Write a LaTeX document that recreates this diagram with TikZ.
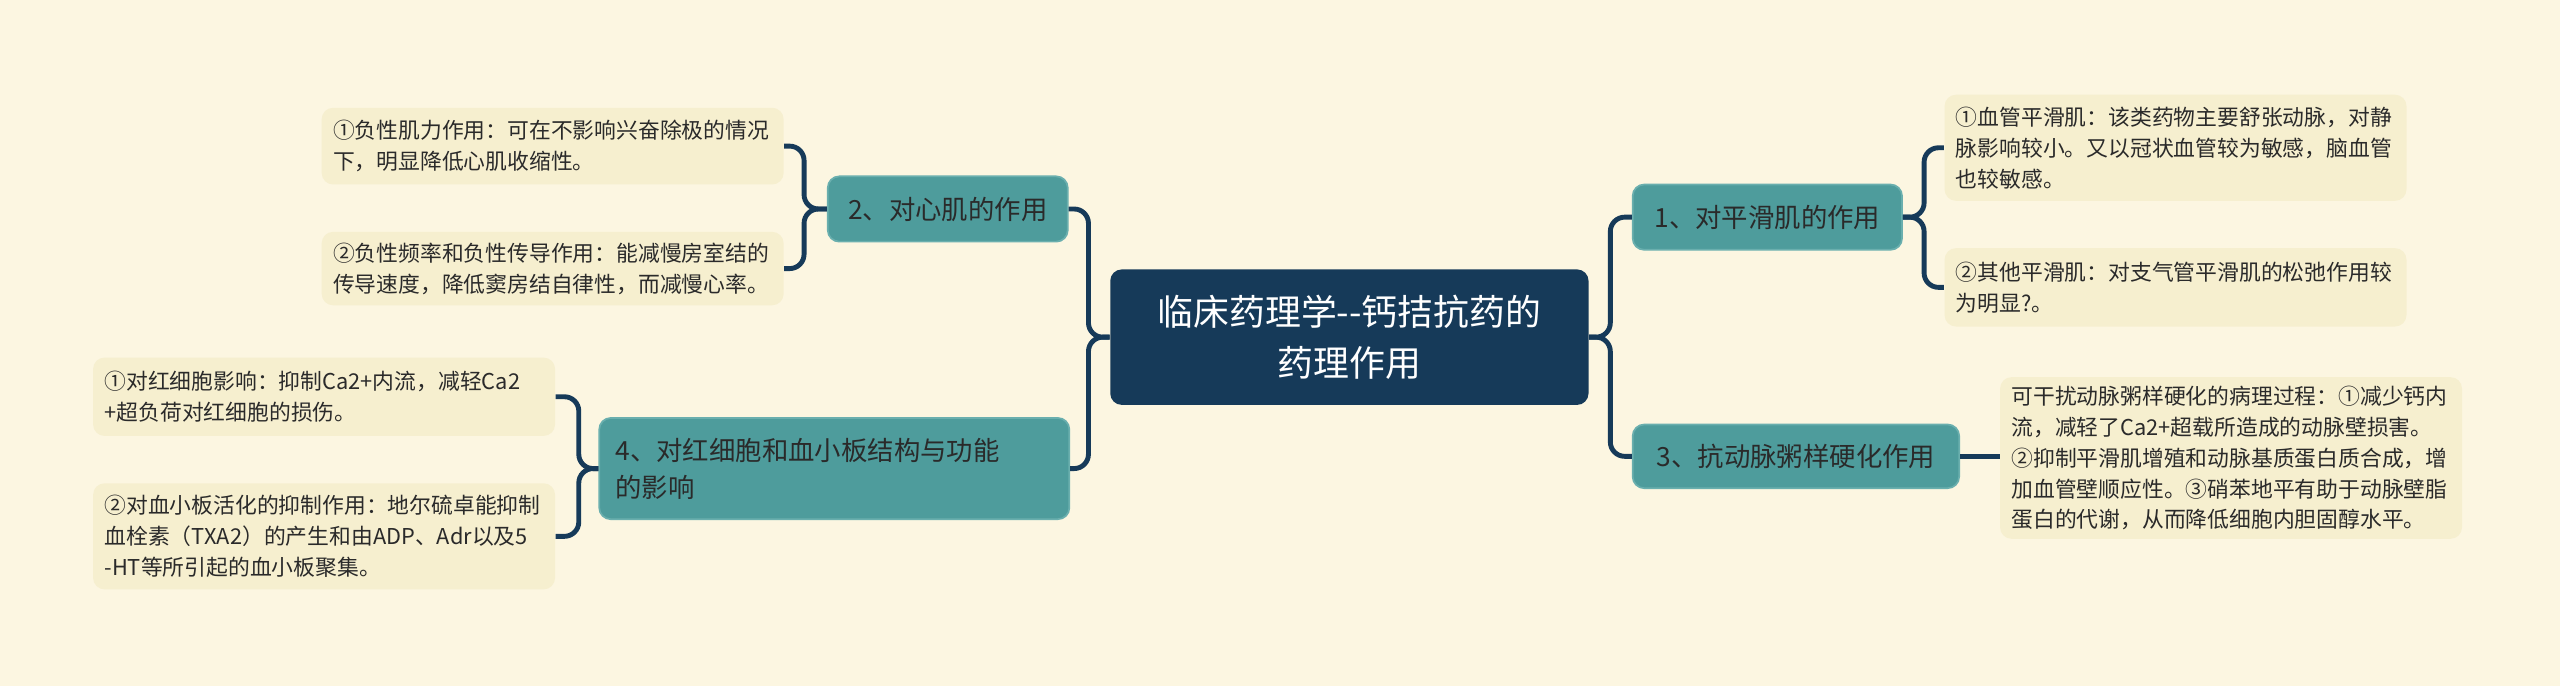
\documentclass[tikz,border=0pt]{standalone}
\usepackage{fontspec}
\setmainfont{Noto Sans CJK SC}
\begin{document}
\begin{tikzpicture}[x=0.02cm,y=-0.02cm,
  leaf/.style={fill=leafc,rounded corners=4pt,inner xsep=0.14cm,inner ysep=0pt,align=left,text width=5.38cm,font=\fontsize{7.6}{10.8}\selectfont,text=txt},
  branch/.style={fill=teal1,draw=teal2,line width=0.6pt,rounded corners=4pt,inner sep=0pt,align=center,font=\fontsize{9.2}{13}\selectfont,text=txt},
  conn/.style={draw=navy,line width=1.7pt,rounded corners=5pt}]
\definecolor{bg}{HTML}{FCF6E1}
\definecolor{leafc}{HTML}{F6EFCF}
\definecolor{teal1}{HTML}{4E9C9C}
\definecolor{teal2}{HTML}{6AAFAE}
\definecolor{navy}{HTML}{163A59}
\definecolor{txt}{HTML}{2A2A2A}
\useasboundingbox[fill=bg] (0,0) rectangle (1568,420);
\node[fill=navy,rounded corners=4pt,minimum width=5.86cm,minimum height=1.66cm,align=center,text=white,font=\fontsize{12.5}{18}\selectfont] (C) at (826.5,206.5) {临床药理学{-}{-}钙拮抗药的\\药理作用};
\node[branch,minimum width=2.94cm,minimum height=0.8cm] (B2) at (580.5,128) {2、对心肌的作用};
\node[branch,minimum width=5.76cm,minimum height=1.24cm,align=left,text width=5.36cm,inner xsep=0.2cm] (B4) at (511,287) {4、对红细胞和血小板结构与功能\\的影响};
\node[branch,minimum width=3.3cm,minimum height=0.8cm] (B1) at (1082.5,133) {1、对平滑肌的作用};
\node[branch,minimum width=4cm,minimum height=0.78cm] (B3) at (1100,279.5) {3、抗动脉粥样硬化作用};
\node[leaf,minimum height=0.94cm] (L2a) at (338.5,89.5) {①负性肌力作用：可在不影响兴奋除极的情况\\下，明显降低心肌收缩性。};
\node[leaf,minimum height=0.9cm] (L2b) at (338.5,164.5) {②负性频率和负性传导作用：能减慢房室结的\\传导速度，降低窦房结自律性，而减慢心率。};
\node[leaf,minimum height=0.96cm] (L4a) at (198.5,243) {①对红细胞影响：抑制Ca2+内流，减轻Ca2\\+超负荷对红细胞的损伤。};
\node[leaf,minimum height=1.3cm] (L4b) at (198.5,328.5) {②对血小板活化的抑制作用：地尔硫卓能抑制\\血栓素（TXA2）的产生和由ADP、Adr以及5\\-HT等所引起的血小板聚集。};
\node[leaf,minimum height=1.3cm] (L1a) at (1332.5,90.5) {①血管平滑肌：该类药物主要舒张动脉，对静\\脉影响较小。又以冠状血管较为敏感，脑血管\\也较敏感。};
\node[leaf,minimum height=0.96cm] (L1b) at (1332.5,176) {②其他平滑肌：对支气管平滑肌的松弛作用较\\为明显?。};
\node[leaf,minimum height=1.98cm] (L3) at (1366.5,280.5) {可干扰动脉粥样硬化的病理过程：①减少钙内\\流，减轻了Ca2+超载所造成的动脉壁损害。\\②抑制平滑肌增殖和动脉基质蛋白质合成，增\\加血管壁顺应性。③硝苯地平有助于动脉壁脂\\蛋白的代谢，从而降低细胞内胆固醇水平。};
\coordinate (jl) at ([xshift=-0.26cm]C.west);
\coordinate (jr) at ([xshift=0.26cm]C.east);
\coordinate (j2) at ([xshift=-0.28cm]B2.west);
\coordinate (j4) at ([xshift=-0.24cm]B4.west);
\coordinate (j1) at ([xshift=0.26cm]B1.east);
\draw[conn] (C.west) -- (jl) |- (B2.east);
\draw[conn] (C.west) -- (jl) |- (B4.east);
\draw[conn] (C.east) -- (jr) |- (B1.west);
\draw[conn] (C.east) -- (jr) |- (B3.west);
\draw[conn] (B2.west) -- (j2) |- (L2a.east);
\draw[conn] (B2.west) -- (j2) |- (L2b.east);
\draw[conn] (B4.west) -- (j4) |- (L4a.east);
\draw[conn] (B4.west) -- (j4) |- (L4b.east);
\draw[conn] (B1.east) -- (j1) |- (L1a.west);
\draw[conn] (B1.east) -- (j1) |- (L1b.west);
\draw[conn] (B3.east) -- (B3.east -| L3.west);
\end{tikzpicture}
\end{document}
